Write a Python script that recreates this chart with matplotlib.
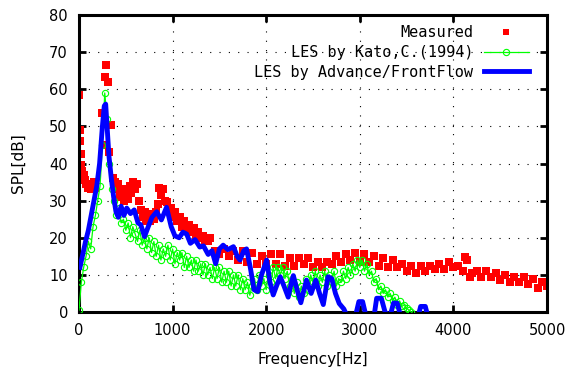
import numpy as np
import matplotlib.pyplot as plt

# measured SPL (red squares)
meas_f = [5, 10, 15, 20, 25, 35, 50, 65, 80, 95, 110, 125, 140, 155, 170,
          245, 265, 278, 290, 305, 320, 340, 360, 380, 400,
          420, 440, 460, 480, 500, 520, 540, 560, 580, 600, 620, 640, 660, 680, 700,
          720, 740, 760, 780, 800, 820, 840, 860, 880, 900, 920, 940, 960, 980, 1000,
          1025, 1050, 1075, 1100, 1125, 1150, 1175, 1200, 1225, 1250, 1275, 1300,
          1325, 1350, 1375, 1400, 1450, 1500, 1550, 1600, 1650, 1700, 1750, 1800,
          1850, 1900, 1950, 2000, 2050, 2100, 2150, 2200, 2250, 2300, 2350, 2400,
          2450, 2500, 2550, 2600, 2650, 2700, 2750, 2800, 2850, 2900, 2950, 3000,
          3050, 3100, 3150, 3200, 3250, 3300, 3350, 3400, 3450, 3500, 3550, 3600,
          3650, 3700, 3750, 3800, 3850, 3900, 3950, 4000, 4050, 4100, 4125, 4150,
          4175, 4200, 4250, 4300, 4350, 4400, 4450, 4500, 4550, 4600, 4650, 4700,
          4750, 4800, 4850, 4900, 4950, 5000]
meas_db = [58.5, 49, 46, 42.5, 39.5, 38, 37, 35.5, 34.5, 33.5, 34.5, 33, 34, 35, 33.5,
           53.5, 45, 63.3, 66.5, 62, 43, 50.4, 36, 35, 33,
           34.5, 31, 33, 30, 32.5, 30.5, 34, 32, 35, 33, 34.5, 30, 27.5, 25.5, 27,
           24.5, 26.5, 24.5, 26, 25, 27, 29, 33.5, 31.5, 33, 30, 29.5, 27.5, 28, 25.5,
           27, 24.5, 25.5, 23, 24.5, 22, 23.5, 21.5, 22.5, 20.5, 21.5, 20,
           20.5, 19.5, 19, 20, 16.5, 15.5, 17, 15, 16.5, 14, 16.5, 13.5,
           16, 13, 15, 13, 15.5, 13, 15.5, 12.5, 14.5, 12.5, 14.5, 13,
           14.5, 12, 13.5, 12, 13.5, 13, 15, 13.5, 15.5, 14, 16, 13.5,
           15.5, 13.5, 15, 12.5, 14.5, 12, 14, 12, 13, 11, 12.5, 10.5,
           12.5, 11, 12.5, 11.5, 13, 11.5, 13.5, 12, 12.5, 11, 14.8, 14,
           9.5, 10.5, 11, 9.5, 11, 9.5, 10.5, 8.5, 10, 8, 9.5, 8,
           9.5, 7.5, 9, 6.5, 8, 7]

# LES by Kato (green), every 25 Hz from 0 to 3550
kato_f = np.arange(0, 3551, 25)
kato_db = [0.5, 8, 12, 15, 19, 17, 23, 26, 30, 34, 45, 59, 52, 40, 33, 30,
           26, 28, 24, 25, 22, 24, 20, 23, 21, 19, 22, 18, 20, 17, 20, 16,
           19, 15, 18, 14, 17, 15, 18, 14, 17, 13, 16, 14, 16, 12, 15, 12,
           14, 11, 14, 11, 13, 10, 13, 10, 12, 9, 12, 9, 12, 8, 11, 8,
           11, 7, 10, 7, 10, 6, 9, 6, 8, 4.5, 7, 9, 6, 10, 7, 9,
           6, 10, 8, 12, 9, 12, 10, 12, 9, 11, 7, 9, 5, 8, 4, 7,
           5, 9, 6, 10, 8, 11, 7, 10, 8, 11, 7, 10, 8, 11, 7, 9,
           8, 11, 9, 12, 10, 13, 11, 14, 12, 14, 11, 13, 10, 11, 8, 9,
           6, 7, 5, 6, 4, 5, 3, 4, 2, 3, 1.5, 2, 1, 0.5, 0]

# LES by Advance/FrontFlow (blue)
aff_f = [10, 40, 70, 100, 130, 160, 190, 220, 250, 270, 285, 300, 320, 345, 370, 395,
         420, 450, 480, 510, 550, 590, 630, 660, 700, 740, 780, 830, 880, 935, 985,
         1025, 1070, 1110, 1150, 1190, 1240, 1290, 1330, 1380, 1420, 1460, 1500, 1540,
         1590, 1650, 1690, 1720, 1760, 1790, 1830, 1870, 1910, 1950, 2005, 2040, 2075,
         2110, 2150, 2190, 2235, 2270, 2290, 2330, 2370, 2430, 2480, 2530, 2570, 2610,
         2660, 2700, 2740, 2780, 2830, 2870, 2950, 2990, 3030, 3070, 3150, 3180, 3230,
         3270, 3320, 3360, 3400, 3440, 3620, 3650, 3700, 3730]
aff_db = [12, 15.5, 19, 22, 26, 30, 34, 40, 50, 55.5, 56, 50, 42, 36, 31, 27,
          25.5, 28.5, 26, 28, 26.5, 27.5, 24, 23.5, 20.3, 23, 25.5, 27, 24.8, 28.2, 23,
          20.5, 20, 21.5, 21, 18.5, 19.5, 17.5, 17.8, 15.5, 16.5, 13, 17, 18,
          16.8, 17.6, 15, 14, 16.5, 17, 12, 6, 5.5, 10, 14, 8, 4.6,
          7, 9.5, 7, 4, 8, 9.8, 6, 2.5, 8.6, 5, 8.6, 5, 2,
          9.5, 9, 5, 2.3, 0.8, -1.5, -1.5, 2.8, 2.8, -1.5, -1.5, 3.7, 3.7,
          0, -1.5, 2.4, 2.4, -1.5, -1.5, 1.5, 1.5, -1.5]

fig = plt.figure(figsize=(5.68, 3.72), dpi=100)
ax = fig.add_axes([79 / 568, 1 - 312 / 372, 468 / 568, 297 / 372])

ax.plot(meas_f, meas_db, 's', color='#ff0000', markersize=5.6, markeredgewidth=0,
        label='Measured', zorder=2)
ax.plot(kato_f, kato_db, '-o', color='#00ff00', linewidth=0.9, markersize=4.5,
        markerfacecolor='none', markeredgewidth=0.8, label='LES by Kato,C.(1994)', zorder=3)
ax.plot(aff_f, aff_db, '-', color='#0000ff', linewidth=3.5,
        label='LES by Advance/FrontFlow', zorder=4)

ax.set_xlim(0, 5000)
ax.set_ylim(0, 80)
ax.set_xticks(np.arange(0, 5001, 1000))
ax.set_yticks(np.arange(0, 81, 10))
ax.grid(True, color='black', linestyle=(0, (1, 7.4)), linewidth=0.8)
ax.tick_params(direction='in', length=5, width=2, top=True, right=True,
               labelsize=10.5, pad=8)
for s in ax.spines.values():
    s.set_linewidth(2.2)

ax.set_xlabel('Frequency[Hz]', fontsize=11, labelpad=10)
ax.set_ylabel('SPL[dB]', fontsize=11, labelpad=17)

leg = ax.legend(loc='upper right', bbox_to_anchor=(0.9615, 0.965), frameon=False,
                markerfirst=False, numpoints=1, handlelength=2.95, handletextpad=0.7,
                borderpad=0, borderaxespad=0, labelspacing=0.3,
                prop={'family': 'DejaVu Sans Mono', 'size': 11})
leg.legend_handles[0].set_markersize(4.4)

fig.savefig('out.png', dpi=100)
